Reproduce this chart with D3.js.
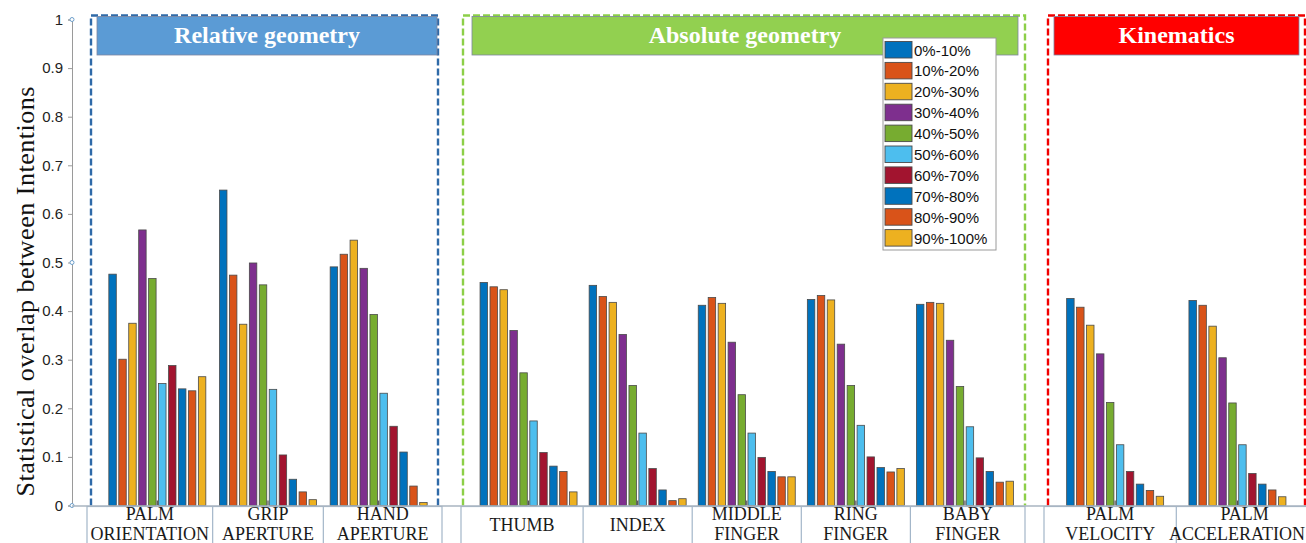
<!DOCTYPE html>
<html>
<head>
<meta charset="utf-8">
<script src="https://cdn.jsdelivr.net/npm/d3@7"></script>
<style>
  html, body { margin: 0; padding: 0; background: #fff; }
  svg { display: block; }
</style>
</head>
<body>
<svg id="chart" width="1306" height="543"></svg>
<script>
// ---- data ----
const categories = [
  ["PALM", "ORIENTATION"], ["GRIP", "APERTURE"], ["HAND", "APERTURE"],
  ["THUMB"], ["INDEX"], ["MIDDLE", "FINGER"], ["RING", "FINGER"], ["BABY", "FINGER"],
  ["PALM", "VELOCITY"], ["PALM", "ACCELERATION"]
];
const groupNames = ["Relative geometry", "Absolute geometry", "Kinematics"];
const groupMembers = [[0, 1, 2], [3, 4, 5, 6, 7], [8, 9]];
const seriesLabels = ["0%-10%", "10%-20%", "20%-30%", "30%-40%", "40%-50%",
                      "50%-60%", "60%-70%", "70%-80%", "80%-90%", "90%-100%"];
// one row per category, one value per time window
const values = [
  [0.476, 0.301, 0.375, 0.567, 0.467, 0.251, 0.288, 0.240, 0.236, 0.265],
  [0.649, 0.474, 0.373, 0.499, 0.454, 0.239, 0.104, 0.054, 0.028, 0.012],
  [0.491, 0.517, 0.546, 0.488, 0.393, 0.231, 0.163, 0.110, 0.040, 0.006],
  [0.459, 0.450, 0.444, 0.360, 0.273, 0.174, 0.109, 0.081, 0.070, 0.028],
  [0.453, 0.430, 0.418, 0.352, 0.247, 0.149, 0.076, 0.032, 0.010, 0.014],
  [0.412, 0.428, 0.416, 0.336, 0.228, 0.149, 0.099, 0.070, 0.059, 0.059],
  [0.424, 0.432, 0.423, 0.332, 0.247, 0.165, 0.100, 0.078, 0.069, 0.076],
  [0.414, 0.418, 0.416, 0.340, 0.245, 0.162, 0.098, 0.070, 0.048, 0.050],
  [0.426, 0.408, 0.371, 0.312, 0.212, 0.125, 0.070, 0.044, 0.031, 0.019],
  [0.422, 0.412, 0.369, 0.304, 0.211, 0.125, 0.066, 0.044, 0.032, 0.018]
];
const yTicks = [0, 0.1, 0.2, 0.3, 0.4, 0.5, 0.6, 0.7, 0.8, 0.9, 1];
const yTitle = "Statistical overlap between Intentions";

// ---- styling / layout ----
const seriesColors = ["#0072BD", "#D95319", "#EDB120", "#7E2F8E", "#77AC30",
                      "#4DBEEE", "#A2142F", "#0072BD", "#D95319", "#EDB120"];
const panelLayout = [
  { fill: "#5B9BD5", dash: "#2F6AA8", box: [91, 438],    head: [97, 437],    bars: [102, 434],    cells: [87, 442] },
  { fill: "#92D050", dash: "#8CCF48", box: [463, 1025],  head: [472, 1018],  bars: [474, 1019.5], cells: [461, 1025] },
  { fill: "#FF0000", dash: "#F00000", box: [1048, 1305], head: [1054, 1299], bars: [1054, 1298.6],cells: [1044, 1313] }
];
const serif = "'Palatino Linotype','Book Antiqua','Liberation Serif','DejaVu Serif',serif";
const sans = "Arial,'Liberation Sans',Helvetica,sans-serif";
const W = 1306;

const svg = d3.select("#chart");
const y = d3.scaleLinear().domain([0, 1]).range([505.5, 19.5]);
const axisX = 72;

// y axis title
svg.append("text")
  .attr("transform", `translate(34,${(y(0) + y(1)) / 2 + 29}) rotate(-90)`)
  .attr("text-anchor", "middle")
  .attr("textLength", 410).attr("lengthAdjust", "spacing")
  .style("font-family", serif).style("font-size", "26px").style("fill", "#111")
  .text(yTitle);

// y axis
const yAxis = svg.append("g").attr("transform", `translate(${axisX},0)`)
  .call(d3.axisLeft(y).tickValues(yTicks).tickFormat(d3.format("~g")).tickSizeOuter(0).tickSize(4).tickPadding(5));
yAxis.select(".domain").attr("stroke", "#9a9a9a");
yAxis.selectAll(".tick line").attr("stroke", "#9a9a9a");
yAxis.selectAll(".tick text")
  .style("font-family", sans).style("font-size", "15px").attr("fill", "#222");
// small handles on the axis
yAxis.selectAll(".handle").data([0, 0.5, 1]).enter().append("circle")
  .attr("cx", 0).attr("cy", d => y(d)).attr("r", 2)
  .attr("fill", "#fff").attr("stroke", "#6d9fcb").attr("stroke-width", 1);

const inner = d3.scaleBand().domain(d3.range(seriesLabels.length)).range([-48.5, 48.5]).paddingInner(0.25);

groupMembers.forEach((members, gi) => {
  const L = panelLayout[gi];
  const g = svg.append("g");
  const outer = d3.scaleBand().domain(members).range(L.bars).padding(0);
  const center = c => outer(c) + outer.bandwidth() / 2;

  // category label cells
  const edges = [L.cells[0], ...members.slice(1).map(c => outer(c)), L.cells[1]];
  g.append("rect")
    .attr("x", L.cells[0]).attr("y", y(0) + 1)
    .attr("width", L.cells[1] - L.cells[0]).attr("height", 60)
    .attr("fill", "#fff").attr("stroke", "#a3b6c9").attr("stroke-width", 1.2);
  edges.slice(1, -1).forEach(ex => {
    g.append("line").attr("x1", ex).attr("x2", ex).attr("y1", y(0) + 1).attr("y2", 543)
      .attr("stroke", "#a3b6c9").attr("stroke-width", 1.2);
  });
  members.forEach((c, k) => {
    const cx = (edges[k] + edges[k + 1]) / 2;
    const t = g.append("text").attr("text-anchor", "middle")
      .style("font-family", serif).style("font-size", "18px").attr("fill", "#1a1a1a");
    categories[c].forEach((line, li) => {
      const span = t.append("tspan").attr("x", cx)
        .attr("y", 520 + li * 19.5 + (categories[c].length === 1 ? 11 : 0)).text(line);
      // keep the widest lines inside the page
      const half = span.node().getComputedTextLength() / 2;
      if (cx + half > W - 1) span.attr("x", W - 1 - half);
    });
  });

  // dashed frame around the panel (open at the bottom, where it meets the baseline)
  const fx0 = L.box[0], fx1 = L.box[1], fy0 = 15.5, fy1 = y(0);
  g.append("path")
    .attr("d", `M${fx0},${fy1}V${fy0}H${fx1}V${fy1}`)
    .attr("fill", "none").attr("stroke", L.dash).attr("stroke-width", 2.4)
    .attr("stroke-dasharray", "7,3");

  // header band
  g.append("rect")
    .attr("x", L.head[0]).attr("y", 16.5)
    .attr("width", L.head[1] - L.head[0]).attr("height", 38.5)
    .attr("fill", L.fill).attr("stroke", "#7d86a0").attr("stroke-width", 0.8);
  g.append("text")
    .attr("x", (L.head[0] + L.head[1]) / 2).attr("y", 43)
    .attr("text-anchor", "middle")
    .style("font-family", serif).style("font-size", "24px").style("font-weight", "bold")
    .attr("fill", "#fff")
    .text(groupNames[gi]);

  // category tick marks
  g.selectAll(".xtick").data(members).enter().append("line")
    .attr("x1", d => center(d)).attr("x2", d => center(d))
    .attr("y1", y(0)).attr("y2", y(0) - 5)
    .attr("stroke", "#555").attr("stroke-width", 1.2);

  // bars
  members.forEach(c => {
    g.selectAll(null).data(values[c]).enter().append("rect")
      .attr("x", (d, i) => center(c) + inner(i))
      .attr("y", d => y(d))
      .attr("width", inner.bandwidth())
      .attr("height", d => y(0) - y(d))
      .attr("fill", (d, i) => seriesColors[i])
      .attr("stroke", "#4a4a4a").attr("stroke-width", 0.8);
  });
});

// horizontal baseline
svg.append("line")
  .attr("x1", axisX).attr("x2", W).attr("y1", y(0) + 0.5).attr("y2", y(0) + 0.5)
  .attr("stroke", "#a8b4c0").attr("stroke-width", 1.5);

// legend
const legend = svg.append("g");
const legX = 883, legY = 38, legW = 113, legRow = 20.9;
legend.append("rect")
  .attr("x", legX).attr("y", legY).attr("width", legW).attr("height", 212)
  .attr("fill", "#fff").attr("stroke", "#9a9a9a").attr("stroke-width", 1);
const rows = legend.selectAll(".row").data(seriesLabels).enter().append("g")
  .attr("transform", (d, i) => `translate(${legX + 2},${legY + 3.5 + i * legRow})`);
rows.append("rect").attr("width", 27).attr("height", 16.5)
  .attr("fill", (d, i) => seriesColors[i]).attr("stroke", "#4a4a4a").attr("stroke-width", 0.9);
rows.append("text").attr("x", 29).attr("y", 14)
  .style("font-family", sans).style("font-size", "15px").attr("fill", "#111")
  .text(d => d);
</script>
</body>
</html>
